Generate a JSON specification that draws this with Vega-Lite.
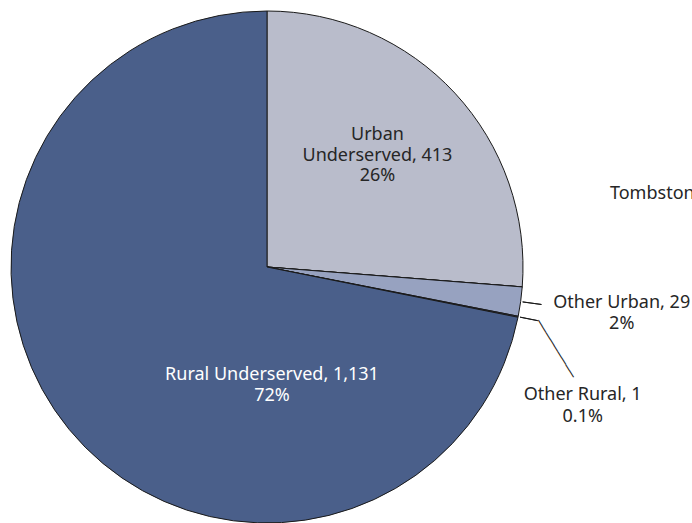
{
  "$schema": "https://vega.github.io/schema/vega-lite/v6.json",
  "width": 534,
  "height": 534,
  "autosize": "none",
  "padding": {"left": 0, "top": 0, "right": 158, "bottom": 0},
  "background": "white",
  "config": {"view": {"stroke": null}},
  "data": {
    "values": [
      {"category": "Urban Underserved", "value": 413, "label": "Urban\nUnderserved, 413\n26%", "idx": 1},
      {"category": "Tombstone", "value": 0, "label": "Tombstone", "idx": 2},
      {"category": "Other Urban", "value": 29, "label": "Other Urban, 29\n2%", "idx": 3},
      {"category": "Other Rural", "value": 1, "label": "Other Rural, 1\n0.1%", "idx": 4},
      {"category": "Rural Underserved", "value": 1131, "label": "Rural Underserved, 1,131\n72%", "idx": 5}
    ]
  },
  "transform": [
    {"stack": "value", "groupby": [], "sort": [{"field": "idx", "order": "ascending"}], "as": ["v0", "v1"]},
    {"calculate": "(datum.v0 + datum.v1) / 2", "as": "mid"}
  ],
  "resolve": {"scale": {"theta": "shared"}},
  "layer": [
    {
      "mark": {"type": "arc", "radius": 256, "stroke": "#1a1a1a", "strokeWidth": 1},
      "encoding": {
        "theta": {"field": "v0", "type": "quantitative", "stack": null, "scale": {"type": "linear", "domain": [0, 1574], "range": [0, 6.283185307179586], "zero": true, "nice": false}},
        "theta2": {"field": "v1"},
        "color": {
          "field": "category",
          "type": "nominal",
          "scale": {
            "domain": ["Urban Underserved", "Tombstone", "Other Urban", "Other Rural", "Rural Underserved"],
            "range": ["#b9bccb", "#b9bccb", "#97a2c0", "#5b6090", "#4a5f8a"]
          },
          "legend": null
        }
      }
    },
    {
      "transform": [{"filter": "datum.category == 'Other Urban'"}],
      "mark": {"type": "arc", "radius": 277, "radius2": 258, "fillOpacity": 0, "stroke": "#1a1a1a", "strokeWidth": 1},
      "encoding": {
        "theta": {"field": "mid", "type": "quantitative", "stack": null},
        "theta2": {"field": "mid"}
      }
    },
    {
      "transform": [{"filter": "datum.category == 'Other Rural'"}],
      "mark": {"type": "arc", "radius": 276, "radius2": 258, "fillOpacity": 0, "stroke": "#1a1a1a", "strokeWidth": 1},
      "encoding": {
        "theta": {"field": "mid", "type": "quantitative", "stack": null},
        "theta2": {"field": "mid"}
      }
    },
    {
      "transform": [{"filter": "datum.category == 'Other Rural'"}],
      "mark": {"type": "text", "text": "─────────", "font": "DejaVu Sans Mono", "fontSize": 12.4, "radius": 300, "angle": 58.45, "dx": 17, "dy": 17, "align": "center", "baseline": "middle", "fill": "#1a1a1a"},
      "encoding": {
        "theta": {"field": "mid", "type": "quantitative", "stack": null}
      }
    },
    {
      "transform": [{"filter": "datum.category == 'Urban Underserved'"}],
      "mark": {"type": "text", "radius": 160, "dx": -7, "dy": -23, "align": "center", "baseline": "middle", "lineBreak": "\n", "font": "Noto Sans", "fontSize": 18, "lineHeight": 20.5, "fill": "#262626"},
      "encoding": {
        "theta": {"field": "mid", "type": "quantitative", "stack": null},
        "text": {"field": "label"}
      }
    },
    {
      "transform": [{"filter": "datum.category == 'Rural Underserved'"}],
      "mark": {"type": "text", "radius": 0, "dx": 5, "dy": 107.5, "align": "center", "baseline": "middle", "lineBreak": "\n", "font": "Noto Sans", "fontSize": 18, "lineHeight": 21, "fill": "white"},
      "encoding": {
        "theta": {"field": "mid", "type": "quantitative", "stack": null},
        "text": {"field": "label"}
      }
    },
    {
      "transform": [{"filter": "datum.category == 'Other Urban'"}],
      "mark": {"type": "text", "radius": 356, "dx": 2, "dy": -12, "align": "center", "baseline": "middle", "lineBreak": "\n", "font": "Noto Sans", "fontSize": 18, "lineHeight": 21, "fill": "#262626"},
      "encoding": {
        "theta": {"field": "mid", "type": "quantitative", "stack": null},
        "text": {"field": "label"}
      }
    },
    {
      "transform": [{"filter": "datum.category == 'Other Rural'"}],
      "mark": {"type": "text", "radius": 330, "dx": -8, "dy": 63.5, "align": "center", "baseline": "middle", "lineBreak": "\n", "font": "Noto Sans", "fontSize": 18, "lineHeight": 22, "fill": "#262626"},
      "encoding": {
        "theta": {"field": "mid", "type": "quantitative", "stack": null},
        "text": {"field": "label"}
      }
    },
    {
      "transform": [{"filter": "datum.category == 'Tombstone'"}],
      "mark": {"type": "text", "radius": 340, "dx": 4, "dy": -99, "align": "left", "baseline": "middle", "font": "Noto Sans", "fontSize": 18, "fill": "#262626"},
      "encoding": {
        "theta": {"field": "mid", "type": "quantitative", "stack": null},
        "text": {"field": "label"}
      }
    }
  ]
}
